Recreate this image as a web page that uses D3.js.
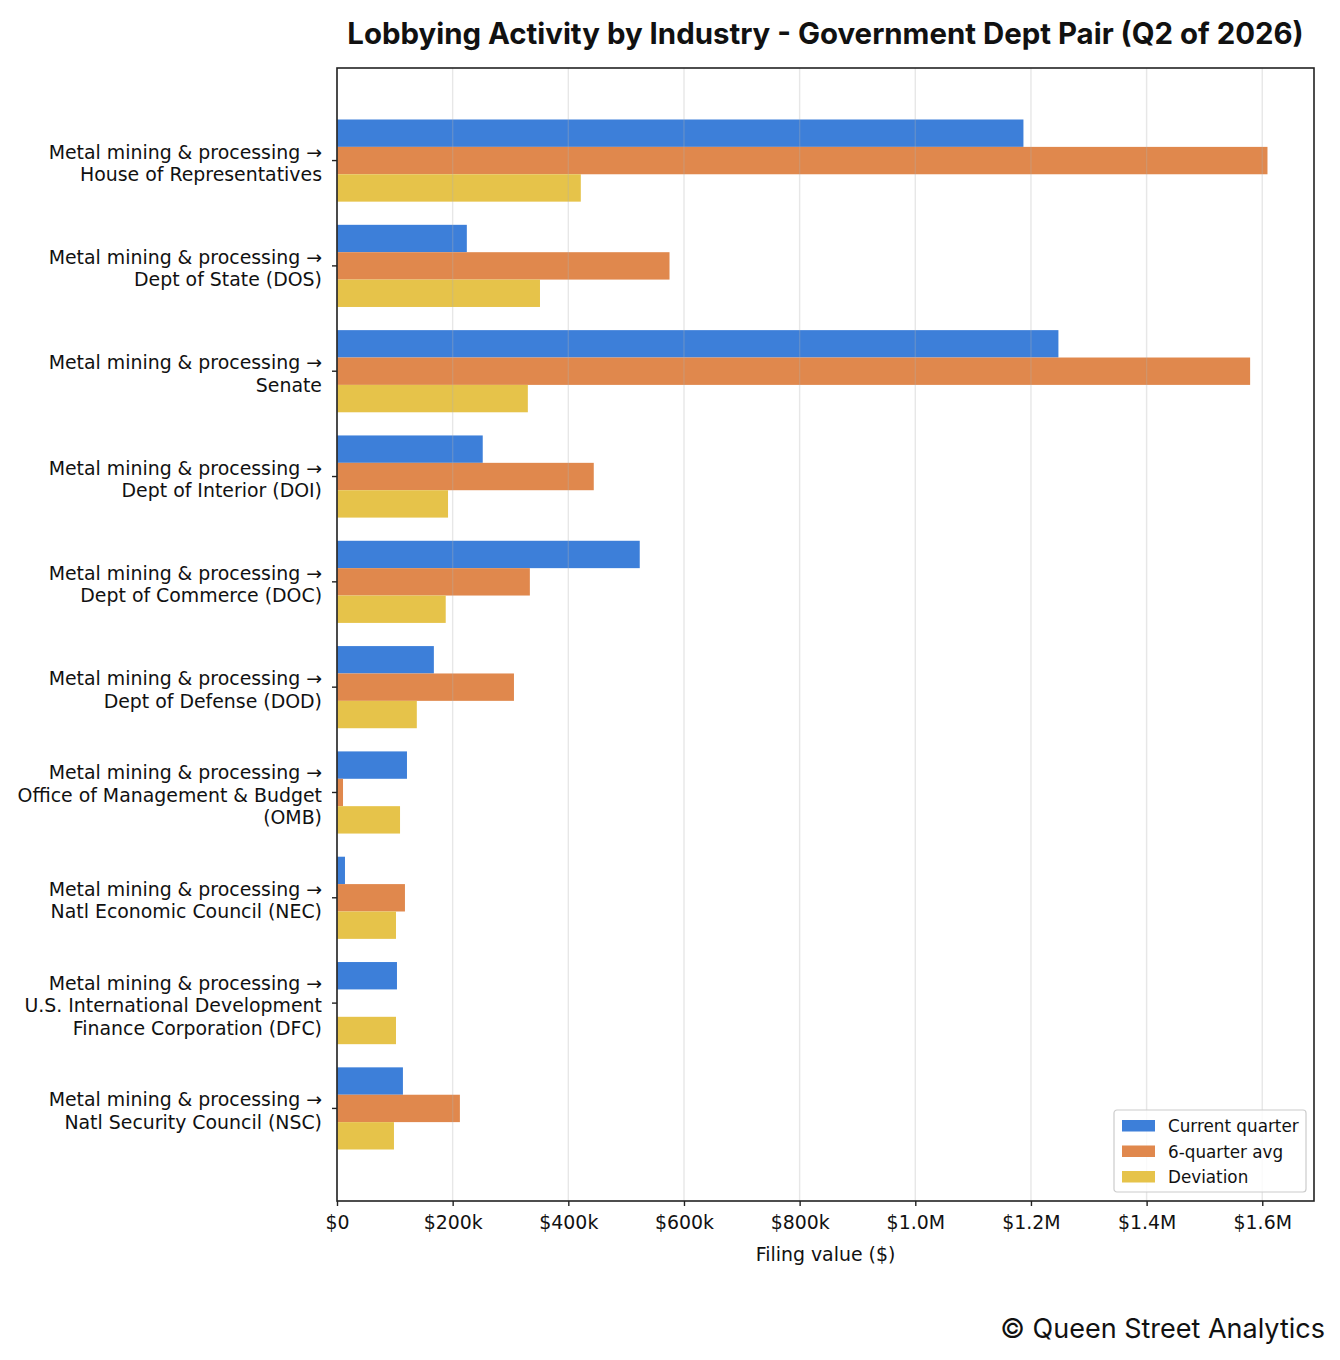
<!DOCTYPE html>
<html>
<head>
<meta charset="utf-8">
<title>Lobbying Activity by Industry</title>
<script src="https://cdn.jsdelivr.net/npm/d3@7"></script>
<style>
body { margin: 0; background: #fff; }
text { font-family: "DejaVu Sans", sans-serif; fill: #111; }
</style>
</head>
<body>
<script>

// category labels, one line per array entry
var pairs = [
  ["Metal mining & processing \u2192", "House of Representatives"],
  ["Metal mining & processing \u2192", "Dept of State (DOS)"],
  ["Metal mining & processing \u2192", "Senate"],
  ["Metal mining & processing \u2192", "Dept of Interior (DOI)"],
  ["Metal mining & processing \u2192", "Dept of Commerce (DOC)"],
  ["Metal mining & processing \u2192", "Dept of Defense (DOD)"],
  ["Metal mining & processing \u2192", "Office of Management & Budget", "(OMB)"],
  ["Metal mining & processing \u2192", "Natl Economic Council (NEC)"],
  ["Metal mining & processing \u2192", "U.S. International Development", "Finance Corporation (DFC)"],
  ["Metal mining & processing \u2192", "Natl Security Council (NSC)"]
];

var currentQuarter = [1187000, 224500, 1247500, 252000, 523500, 167500, 121000, 13800, 103700, 114000];
var sixQuarterAvg  = [1609000, 575000, 1579000, 444000, 333500, 306000, 10400, 117500, 0, 212500];
var deviation      = [421600, 351000, 330000, 192000, 188000, 138000, 109000, 102000, 102000, 98500];

var seriesNames = ["Current quarter", "6-quarter avg", "Deviation"];
var seriesColors = ["#3d7fd9", "#e0884d", "#e6c34a"];
var xTicks = [0, 200000, 400000, 600000, 800000, 1000000, 1200000, 1400000, 1600000];

var series = [currentQuarter, sixQuarterAvg, deviation];

var width = 1340, height = 1360;
var margin = {left: 337, right: 26, top: 68, bottom: 159};
var plotW = width - margin.left - margin.right;
var plotH = height - margin.top - margin.bottom;
var fs = 18.9;

var svg = d3.select("body").append("svg")
  .attr("width", width)
  .attr("height", height);

var maxVal = d3.max(series, function(s){ return d3.max(s); });
var x = d3.scaleLinear().domain([0, maxVal * 1.05]).range([0, plotW]);

var n = pairs.length;
var barH = 0.26;
var pad = (n - 1 + 3 * barH) * 0.05 + 1.5 * barH;
var y = d3.scaleLinear().domain([-pad, n - 1 + pad]).range([0, plotH]);

var g = svg.append("g").attr("transform", "translate(" + margin.left + "," + margin.top + ")");

// bars
series.forEach(function(vals, si){
  g.append("g").selectAll("rect")
    .data(vals)
    .enter()
    .append("rect")
    .attr("x", 0)
    .attr("y", function(d, i){ return y(i + (si - 1.5) * barH); })
    .attr("width", function(d){ return x(d); })
    .attr("height", y(barH) - y(0))
    .attr("fill", seriesColors[si]);
});

// grid on top of bars, faint
g.append("g").selectAll("line")
  .data(xTicks)
  .enter()
  .append("line")
  .attr("x1", function(d){ return x(d); })
  .attr("x2", function(d){ return x(d); })
  .attr("y1", 0)
  .attr("y2", plotH)
  .attr("stroke", "#b0b0b0")
  .attr("stroke-opacity", 0.3)
  .attr("stroke-width", 1.4);

// x axis
var xAxis = d3.axisBottom(x)
  .tickValues(xTicks)
  .tickSize(5)
  .tickPadding(10)
  .tickFormat(function(d){
    if (d === 0) return "$0";
    if (d >= 1000000) return "$" + (d / 1000000).toFixed(1) + "M";
    return "$" + (d / 1000) + "k";
  });

var gx = g.append("g").attr("transform", "translate(0," + plotH + ")").call(xAxis);
gx.select(".domain").remove();
gx.selectAll("line").attr("stroke", "#222").attr("stroke-width", 1.4);
gx.selectAll("text").attr("font-size", fs + "px").attr("fill", "#111");

// y ticks + multiline labels
var gy = g.append("g");
pairs.forEach(function(lines, i){
  var cy = y(i);
  gy.append("line")
    .attr("x1", -5).attr("x2", 0)
    .attr("y1", cy).attr("y2", cy)
    .attr("stroke", "#222").attr("stroke-width", 1.4);
  var lh = 22.6;
  var t = gy.append("text")
    .attr("text-anchor", "end")
    .attr("font-size", fs + "px")
    .attr("x", -15)
    .attr("y", cy + 2.5 - (lines.length - 1) * lh / 2);
  lines.forEach(function(s, j){
    t.append("tspan").attr("x", -15).attr("dy", j === 0 ? "0.36em" : lh).text(s);
  });
});

// frame
g.append("rect")
  .attr("width", plotW).attr("height", plotH)
  .attr("fill", "none")
  .attr("stroke", "#222")
  .attr("stroke-width", 1.6);

// axis label
g.append("text")
  .attr("x", plotW / 2)
  .attr("y", plotH + 60)
  .attr("text-anchor", "middle")
  .attr("font-size", fs + "px")
  .text("Filing value ($)");

// title
svg.append("text")
  .attr("x", margin.left + plotW / 2)
  .attr("y", 44)
  .attr("text-anchor", "middle")
  .style("font-family", "Inter, sans-serif")
  .attr("font-weight", "bold")
  .attr("font-size", "29.4px")
  .attr("fill", "#1a1a1a")
  .text("Lobbying Activity by Industry - Government Dept Pair (Q2 of 2026)");

// legend
var lg = g.append("g").attr("transform", "translate(" + (plotW - 200) + "," + (plotH - 91) + ")");
lg.append("rect")
  .attr("width", 192).attr("height", 82)
  .attr("rx", 3)
  .attr("fill", "#fff")
  .attr("fill-opacity", 0.8)
  .attr("stroke", "#ccc")
  .attr("stroke-width", 1.2);
seriesNames.forEach(function(name, i){
  lg.append("rect")
    .attr("x", 8).attr("y", 10 + i * 25.5)
    .attr("width", 33).attr("height", 11.5)
    .attr("fill", seriesColors[i]);
  lg.append("text")
    .attr("x", 54).attr("y", 16 + i * 25.5)
    .attr("dy", "0.36em")
    .attr("font-size", "16.8px")
    .text(name);
});

// credit
svg.append("text")
  .attr("x", 1325)
  .attr("y", 1338)
  .attr("text-anchor", "end")
  .style("font-family", "Inter, sans-serif")
  .attr("font-size", "27px")
  .attr("fill", "#222")
  .text("\u00a9 Queen Street Analytics");

</script>
</body>
</html>
